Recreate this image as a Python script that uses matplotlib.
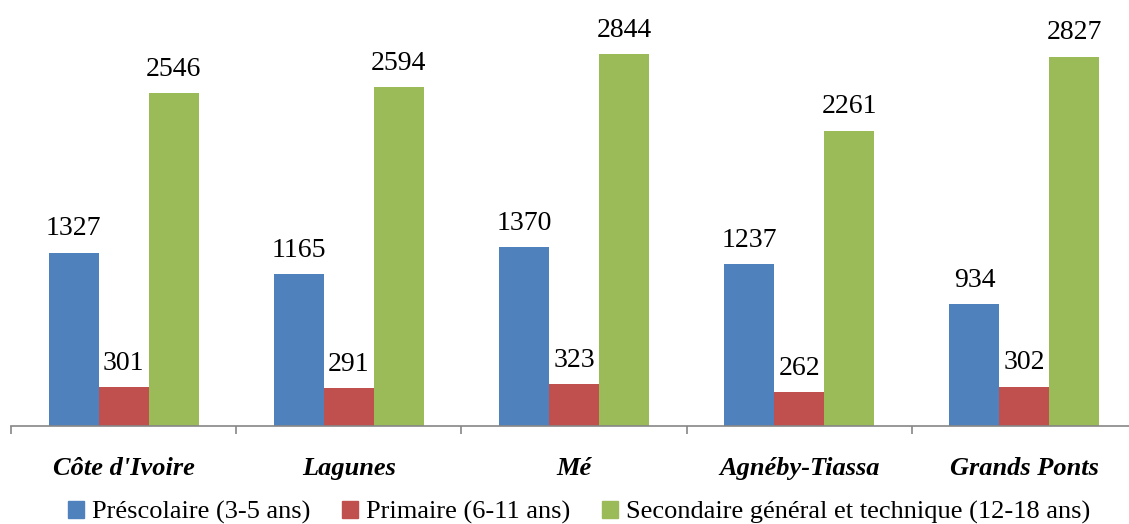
import numpy as np
import matplotlib.pyplot as plt
from matplotlib.patches import Patch

regions = ["Côte d'Ivoire", "Lagunes", "Mé", "Agnéby-Tiassa", "Grands Ponts"]
prescolaire = [1327, 1165, 1370, 1237, 934]
primaire = [301, 291, 323, 262, 302]
secondaire = [2546, 2594, 2844, 2261, 2827]
series_names = ["Préscolaire (3-5 ans)", "Primaire (6-11 ans)",
                "Secondaire général et technique (12-18 ans)"]
colors = ["#4F81BD", "#C0504D", "#9BBB59"]

plt.rcParams['font.family'] = ['Liberation Serif', 'DejaVu Serif']

fig = plt.figure(figsize=(11.29, 5.24), dpi=100)
ax = fig.add_axes([11 / 1129, 98 / 524, 1126 / 1129, 426 / 524])

x = np.arange(len(regions))
w = 0.222
for i, (vals, c) in enumerate(zip([prescolaire, primaire, secondaire], colors)):
    bars = ax.bar(x + (i - 1) * w, vals, w, color=c, label=series_names[i])
    ax.bar_label(bars, labels=[str(v) for v in vals], padding=8, fontsize=20)

ax.set_xlim(-0.5, len(regions) - 0.5)
ax.set_ylim(0, 3260)
ax.set_yticks([])
for s in ['top', 'right', 'left']:
    ax.spines[s].set_visible(False)
ax.spines['bottom'].set_color('#868686')
ax.spines['bottom'].set_linewidth(1.2)

ax.set_xticks(x)
ax.set_xticklabels(regions, fontsize=19, fontweight='bold', fontstyle='italic')
ax.tick_params(axis='x', which='major', length=0, pad=22)
ax.set_xticks(np.arange(len(regions) + 1) - 0.5, minor=True)
ax.tick_params(axis='x', which='minor', length=6, color='#868686', width=1.2)

handles = [Patch(color=c) for c in colors]
fig.legend(handles, series_names, loc='center', bbox_to_anchor=(0.513, 0.022),
           ncol=3, frameon=False, fontsize=19, handlelength=0.6, handleheight=0.6,
           handletextpad=0.3, columnspacing=1.2, borderaxespad=0)

fig.savefig("out.png", dpi=100)
